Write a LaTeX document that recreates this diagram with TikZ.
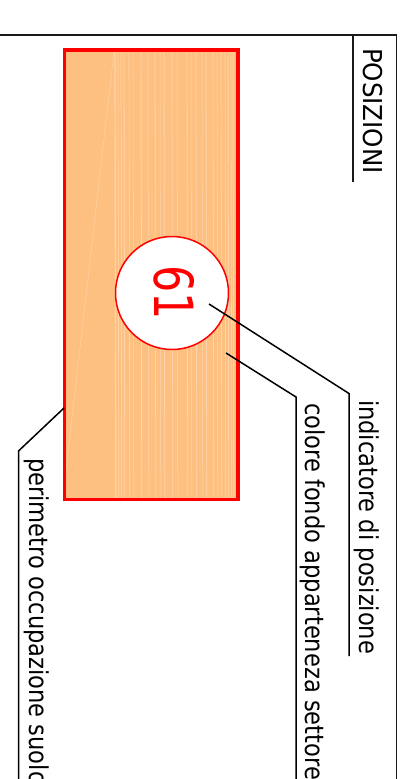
\documentclass[tikz,border=0pt]{standalone}
\usepackage{fontspec}
\setmainfont{DejaVu Sans Condensed}
\definecolor{fillorange}{RGB}{254,192,128}
\definecolor{streak}{RGB}{255,212,170}
\tikzset{
  x=1pt,y=1pt,
  frameline/.style={draw=black!90,line width=1.4pt},
  leader/.style={draw=black,line width=1.5pt},
  caption/.style={rotate=-90,anchor=base west,inner sep=0pt,outer sep=0pt,font=\fontsize{26}{30}\selectfont,text=black},
}
\begin{document}
\begin{tikzpicture}
\useasboundingbox (0,0) rectangle (409,-779);
\clip (0,0) rectangle (409,-779);
% frame
\coordinate (fa) at (0,-35);
\coordinate (fb) at (396.5,-35);
\coordinate (fc) at (396.5,-779);
\draw[frameline] (fa) -- (fb) -- (fc);
\coordinate (ta) at (353,-35);
\coordinate (tb) at (353,-182);
\draw[frameline] (ta) -- (tb);
\node[caption] (tpos) at (363,-48) {\scalebox{1.05}[1]{POSIZIONI}};
% occupied area
\fill[fillorange] (64.5,-50) rectangle (238,-499.5);
\foreach \px/\w in {115/1.2,118/.6,121/.7,124/.8,129/.6,133/.5,141/.9,148/.5,155/.8,160/.5,164/.8,172/.7,177/.5,187/.8,191/.5,196/.7,202/.5,206/.8,213/.6,217/.5,221/.7,225/.6,228/.9,231/.6,233/1}
  \draw[streak,line width=\w pt] (\px,-52) -- (\px+.8,-498);
\draw[streak,line width=.4pt] (114,-52) -- (66,-470);
\draw[red,line width=3.5pt] (64.5,-50) rectangle (238,-499.5);
% position marker
\node[circle,draw=red,line width=1.5pt,fill=white,minimum size=113pt,inner sep=0pt] (mark) at (172,-293) {};
\node[rotate=-90,text=red,inner sep=0pt,font=\fontsize{54}{58}\selectfont] (num) at (174,-293) {\scalebox{.88}[1]{61}};
% leaders
\coordinate (a1) at (209,-304);
\coordinate (a2) at (349,-393.5);
\coordinate (a3) at (349,-656);
\draw[leader] (a1) -- (a2) -- (a3);
\coordinate (b1) at (226,-353);
\coordinate (b2) at (296,-397);
\coordinate (b3) at (296,-779);
\draw[leader] (b1) -- (b2) -- (b3);
\coordinate (c1) at (64,-408);
\coordinate (c2) at (18.5,-451);
\coordinate (c3) at (18.5,-779);
\draw[leader] (c1) -- (c2) -- (c3);
\node[caption] (t1) at (359.5,-400) {\scalebox{.966}[1]{indicatore di posizione}};
\node[caption] (t2) at (305.5,-403) {\scalebox{.966}[1]{colore fondo apparteneza settore}};
\node[caption] (t3) at (29,-458) {\scalebox{.966}[1]{perimetro occupazione suolo}};
\end{tikzpicture}
\end{document}
